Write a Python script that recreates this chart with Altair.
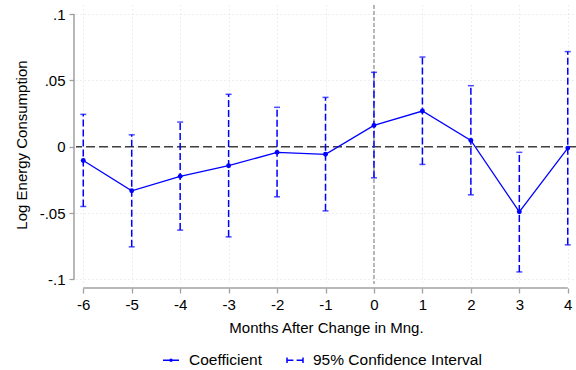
import altair as alt
import pandas as pd

# ---- data ----
months = [-6, -5, -4, -3, -2, -1, 0, 1, 2, 3, 4]
coef = [-0.0103, -0.0332, -0.0223, -0.0143, -0.0042, -0.0057, 0.0161, 0.0269, 0.0048, -0.0490, -0.0010]
ci_low = [-0.0450, -0.0754, -0.0628, -0.0679, -0.0377, -0.0483, -0.0234, -0.0133, -0.0362, -0.0943, -0.0739]
ci_high = [0.0244, 0.0090, 0.0186, 0.0395, 0.0297, 0.0372, 0.0561, 0.0676, 0.0460, -0.0042, 0.0717]

x_ticks = [-6, -5, -4, -3, -2, -1, 0, 1, 2, 3, 4]
y_ticks = [-0.1, -0.05, 0, 0.05, 0.1]
series_names = ["Coefficient", "95% Confidence Interval"]

BLUE = "#0000ff"
AXIS_GRAY = "#a0a0a0"
FONT = "Liberation Sans"

df = pd.DataFrame({"m": months, "b": coef, "lo": ci_low, "hi": ci_high})

xscale = alt.Scale(domain=[-6.15, 4.17], nice=False, zero=False)
yscale = alt.Scale(domain=[-0.1034, 0.1068], nice=False, zero=False)

xaxis = alt.Axis(values=x_ticks, title="Months After Change in Mng.",
                 labelExpr="'' + datum.value", offset=4, domain=False,
                 tickColor=AXIS_GRAY, tickSize=5, tickWidth=1.3, labelPadding=4,
                 grid=True, gridColor="#dcdcdc", gridDash=[1, 3], gridWidth=1,
                 titlePadding=8)
yaxis = alt.Axis(values=y_ticks, title="Log Energy Consumption",
                 labelExpr="replace('' + datum.value, '0.', '.')", offset=2, domain=False,
                 tickColor=AXIS_GRAY, tickSize=5, tickWidth=1.3, labelPadding=4,
                 grid=True, gridColor="#dcdcdc", gridDash=[1, 3], gridWidth=1,
                 titlePadding=10)

base = alt.Chart(df)

# gridlines / axes carried by an invisible layer
axes_layer = base.mark_point(opacity=0).encode(
    x=alt.X("m:Q", scale=xscale, axis=xaxis),
    y=alt.Y("b:Q", scale=yscale, axis=yaxis),
)

zero_df = pd.DataFrame({"v": [0]})
hzero = alt.Chart(zero_df).mark_rule(color="#404040", strokeDash=[9, 4], strokeWidth=1.3).encode(
    y=alt.Y("v:Q", scale=yscale))
vzero = alt.Chart(zero_df).mark_rule(color="#a8a8a8", strokeDash=[4, 2], strokeWidth=1.6).encode(
    x=alt.X("v:Q", scale=xscale))

# axis lines spanning only the tick range (Stata style)
xline_df = pd.DataFrame({"a": [x_ticks[0]], "b": [x_ticks[-1]]})
xline = alt.Chart(xline_df).mark_rule(color=AXIS_GRAY, strokeWidth=1.5).encode(
    x=alt.X("a:Q", scale=xscale), x2="b:Q", y=alt.value(283))
yline_df = pd.DataFrame({"a": [y_ticks[0]], "b": [y_ticks[-1]]})
yline = alt.Chart(yline_df).mark_rule(color=AXIS_GRAY, strokeWidth=1.5).encode(
    y=alt.Y("a:Q", scale=yscale), y2="b:Q", x=alt.value(-2))

ci = base.mark_rule(color=BLUE, strokeDash=[7, 3], strokeWidth=1.5).encode(
    x=alt.X("m:Q", scale=xscale), y=alt.Y("lo:Q", scale=yscale), y2="hi:Q")
cap_lo = base.mark_tick(color=BLUE, orient="horizontal", size=6, thickness=1.5).encode(
    x=alt.X("m:Q", scale=xscale), y=alt.Y("lo:Q", scale=yscale))
cap_hi = base.mark_tick(color=BLUE, orient="horizontal", size=6, thickness=1.5).encode(
    x=alt.X("m:Q", scale=xscale), y=alt.Y("hi:Q", scale=yscale))

line = base.mark_line(color=BLUE, strokeWidth=1.3).encode(
    x=alt.X("m:Q", scale=xscale), y=alt.Y("b:Q", scale=yscale))
pts = base.mark_circle(color=BLUE, size=24, opacity=1).encode(
    x=alt.X("m:Q", scale=xscale), y=alt.Y("b:Q", scale=yscale))

# legend-only layer (no rows drawn)
coef_sym = "M-1,0H1M-0.12,0A0.12,0.12 0 1,1 0.12,0A0.12,0.12 0 1,1 -0.12,0Z"
ci_sym = "M-1,-0.35V0.35M-1,0H-0.2M0.2,0H1M1,-0.35V0.35"
legend_df = pd.DataFrame({"series": series_names})
legend_layer = alt.Chart(legend_df).transform_filter("false").mark_point(
    filled=False, color=BLUE, strokeWidth=1.5, opacity=1
).encode(
    x=alt.X("m:Q", scale=xscale),
    y=alt.Y("b:Q", scale=yscale),
    shape=alt.Shape("series:N",
                    scale=alt.Scale(domain=series_names, range=[coef_sym, ci_sym]),
                    legend=alt.Legend(title=None, orient="none", direction="horizontal",
                                      legendX=86, legendY=346, symbolSize=256,
                                      symbolStrokeWidth=1.5, labelLimit=400,
                                      labelFont=FONT, labelFontSize=15.5, labelColor="black",
                                      labelOffset=9, columnPadding=22)),
)

chart = alt.layer(axes_layer, hzero, vzero, xline, yline, ci, cap_lo, cap_hi, line, pts,
                  legend_layer).properties(
    width=500, height=279,
    padding={"left": 76, "top": 5, "right": 0, "bottom": 86},
    autosize="none",
    background="white",
).configure_view(stroke=None).configure_axis(
    labelFont=FONT, titleFont=FONT, labelFontSize=15, titleFontSize=15,
    labelColor="black", titleColor="black", titleFontWeight="normal",
)

chart.save("out.html", embed_options={"renderer": "svg", "actions": False})
